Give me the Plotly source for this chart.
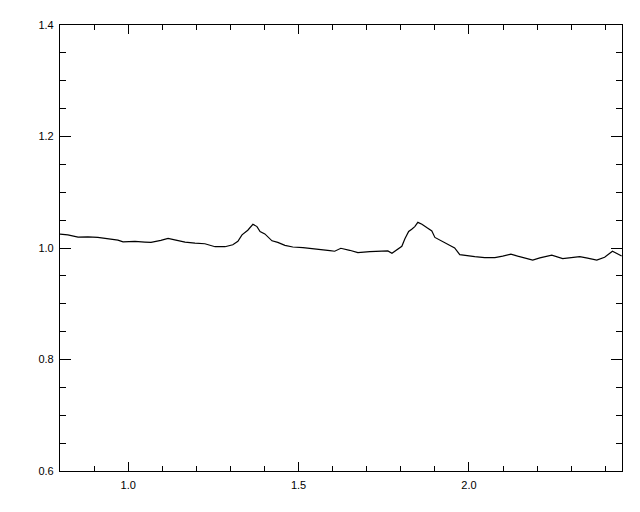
import plotly.graph_objects as go

wavelength = [0.800, 0.823, 0.853, 0.882, 0.911, 0.941, 0.970, 0.985, 1.020, 1.049,
              1.067, 1.096, 1.117, 1.140, 1.167, 1.196, 1.225, 1.255, 1.284, 1.307,
              1.322, 1.334, 1.351, 1.366, 1.378, 1.387, 1.401, 1.422, 1.439, 1.460,
              1.483, 1.513, 1.533, 1.562, 1.592, 1.606, 1.624, 1.650, 1.674, 1.709,
              1.738, 1.762, 1.774, 1.788, 1.803, 1.812, 1.823, 1.832, 1.841, 1.850,
              1.862, 1.876, 1.891, 1.900, 1.920, 1.938, 1.958, 1.973, 1.996, 2.017,
              2.046, 2.076, 2.099, 2.123, 2.143, 2.164, 2.187, 2.208, 2.243, 2.275,
              2.301, 2.325, 2.348, 2.375, 2.398, 2.421, 2.448]
flux = [1.0248, 1.0235, 1.0195, 1.0200, 1.0190, 1.0165, 1.0142, 1.0110, 1.0119, 1.0106,
        1.0100, 1.0136, 1.0172, 1.0142, 1.0106, 1.0088, 1.0076, 1.0023, 1.0023, 1.0058,
        1.0119, 1.0235, 1.0319, 1.0425, 1.0384, 1.0296, 1.0253, 1.0129, 1.0100, 1.0048,
        1.0018, 1.0005, 0.9995, 0.9977, 0.9952, 0.9942, 0.9995, 0.9959, 0.9917, 0.9935,
        0.9935, 0.9947, 0.9906, 0.9959, 1.0030, 1.0165, 1.0296, 1.0336, 1.0384, 1.0460,
        1.0425, 1.0366, 1.0306, 1.0190, 1.0124, 1.0076, 1.0000, 0.9881, 0.9858, 0.9846,
        0.9828, 0.9828, 0.9853, 0.9888, 0.9853, 0.9818, 0.9782, 0.9823, 0.9871, 0.9811,
        0.9823, 0.9846, 0.9818, 0.9782, 0.9835, 0.9942, 0.9858]

x_range = [0.8, 2.449]
y_range = [0.6, 1.4]

fig = go.Figure()
fig.add_trace(go.Scatter(x=wavelength, y=flux, mode="lines",
                         line=dict(color="black", width=1.2), showlegend=False))

font = dict(family="Liberation Sans, Arial, sans-serif", size=11, color="black")
base = dict(showgrid=False, zeroline=False, showline=True, linecolor="black",
            linewidth=1.2, ticks="inside", tickcolor="black", tickwidth=1,
            tickformat=".1f", tickfont=font)
xt = dict(range=x_range, dtick=0.5, tick0=0, ticklen=9,
          minor=dict(dtick=0.1, tick0=0, ticks="inside", ticklen=5,
                     tickcolor="black", tickwidth=1, showgrid=False))
yt = dict(range=y_range, dtick=0.2, tick0=0, ticklen=11,
          minor=dict(dtick=0.05, tick0=0, ticks="inside", ticklen=6,
                     tickcolor="black", tickwidth=1, showgrid=False))

fig.update_layout(
    xaxis=dict(**base, **xt, side="bottom", ticklabelstandoff=4),
    yaxis=dict(**base, **yt, side="left", ticklabelstandoff=3),
    xaxis2=dict(**base, **xt, side="top", overlaying="x", matches="x",
                showticklabels=False),
    yaxis2=dict(**base, **yt, side="right", overlaying="y", matches="y",
                showticklabels=False),
    width=640, height=512, margin=dict(l=52, r=26, t=11, b=49),
    paper_bgcolor="white", plot_bgcolor="white")

# invisible helper trace so the top/right axes are drawn
fig.add_trace(go.Scatter(x=wavelength[:1], y=flux[:1], xaxis="x2", yaxis="y2",
                         mode="lines", line=dict(width=0), hoverinfo="skip",
                         showlegend=False))

fig.write_html("out.html")
